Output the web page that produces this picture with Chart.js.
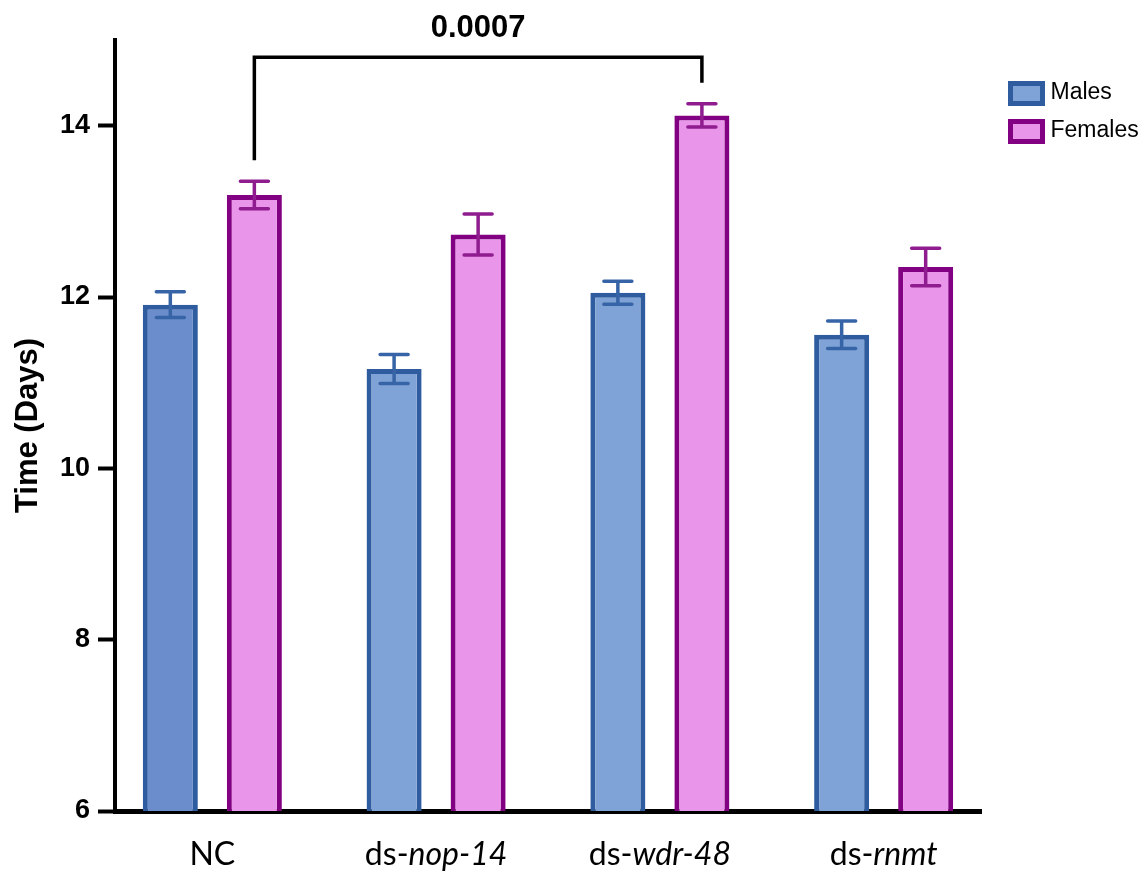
<!DOCTYPE html>
<html>
<head>
<meta charset="utf-8">
<script src="https://cdn.jsdelivr.net/npm/chart.js@4.4.1/dist/chart.umd.min.js"></script>
<style>
  html, body { margin: 0; padding: 0; background: #fff; }
  #wrap { width: 1148px; height: 873px; position: relative; }
</style>
</head>
<body>
<div id="wrap"><canvas id="chart"></canvas></div>
<script>
// data
const categories = ['NC', 'ds-nop-14', 'ds-wdr-48', 'ds-rnmt'];
const males = [11.91, 11.16, 12.05, 11.56];
const malesErr = [0.15, 0.17, 0.135, 0.16];
const females = [13.19, 12.73, 14.12, 12.35];
const femalesErr = [0.16, 0.24, 0.135, 0.22];
const yTicks = [6, 8, 10, 12, 14];
const sigPair = [0, 2];      // NC vs ds-wdr-48 (females)
const sigLabel = '0.0007';
const sigLevel = 14.8;

const SANS = "'Liberation Sans', Arial, sans-serif";
const LABEL_FONT = "Lato, 'Open Sans', sans-serif";

const MALE_FILL = '#7fa3d6';
const MALE_FILL_NC = '#6b8dcb';
const MALE_BORDER = '#2f5c9e';
const MALE_ERR = '#3764a6';
const FEMALE_FILL = '#e995e9';
const FEMALE_BORDER = '#820082';
const FEMALE_ERR = '#8f1d8f';

// error bars with caps on both ends
const errorBars = {
    id: 'errorBars',
    afterDatasetsDraw(chart) {
        const ctx = chart.ctx;
        const yScale = chart.scales.y;
        chart.data.datasets.forEach((ds, di) => {
            const meta = chart.getDatasetMeta(di);
            ctx.save();
            ctx.strokeStyle = ds.errColor;
            ctx.lineWidth = 3.5;
            ctx.lineCap = 'round';
            meta.data.forEach((bar, i) => {
                const hi = yScale.getPixelForValue(ds.data[i] + ds.errors[i]);
                const lo = yScale.getPixelForValue(ds.data[i] - ds.errors[i]);
                ctx.beginPath();
                ctx.moveTo(bar.x, hi); ctx.lineTo(bar.x, lo);
                ctx.moveTo(bar.x - 14, hi); ctx.lineTo(bar.x + 14, hi);
                ctx.moveTo(bar.x - 14, lo); ctx.lineTo(bar.x + 14, lo);
                ctx.stroke();
            });
            ctx.restore();
        });
    }
};

// significance bracket between two female bars
const sigBracket = {
    id: 'sigBracket',
    afterDraw(chart) {
        const ctx = chart.ctx;
        const yScale = chart.scales.y;
        const meta = chart.getDatasetMeta(1);
        const [a, b] = sigPair;
        const x0 = meta.data[a].x, x1 = meta.data[b].x;
        const top = yScale.getPixelForValue(sigLevel);
        const leg0 = yScale.getPixelForValue(females[a] + femalesErr[a]) - 21;
        const leg1 = yScale.getPixelForValue(females[b] + femalesErr[b]) - 21;
        ctx.save();
        ctx.strokeStyle = '#000';
        ctx.lineWidth = 3.5;
        ctx.beginPath();
        ctx.moveTo(x0, leg0); ctx.lineTo(x0, top); ctx.lineTo(x1, top); ctx.lineTo(x1, leg1);
        ctx.stroke();
        ctx.fillStyle = '#000';
        ctx.font = 'bold 31px ' + SANS;
        ctx.textAlign = 'center';
        ctx.textBaseline = 'alphabetic';
        ctx.fillText(sigLabel, (x0 + x1) / 2, top - 20);
        ctx.restore();
    }
};

// category labels, gene names in italics
const xLabels = {
    id: 'xLabels',
    afterDraw(chart) {
        const ctx = chart.ctx;
        const xScale = chart.scales.x;
        const base = chart.chartArea.bottom + 54;
        ctx.save();
        ctx.fillStyle = '#000';
        ctx.textBaseline = 'alphabetic';
        ctx.textAlign = 'left';
        categories.forEach((name, i) => {
            const cx = xScale.getPixelForValue(i);
            const parts = name.startsWith('ds-') ? ['ds-', name.slice(3)] : [name, ''];
            ctx.font = '32px ' + LABEL_FONT;
            const w0 = ctx.measureText(parts[0]).width;
            ctx.font = 'italic 32px ' + LABEL_FONT;
            const w1 = ctx.measureText(parts[1]).width;
            const x = cx - (w0 + w1) / 2;
            ctx.font = '32px ' + LABEL_FONT;
            ctx.fillText(parts[0], x, base);
            ctx.font = 'italic 32px ' + LABEL_FONT;
            ctx.fillText(parts[1], x + w0, base);
        });
        ctx.restore();
    }
};

// legend at the upper right, outside the plot
const sideLegend = {
    id: 'sideLegend',
    afterDraw(chart) {
        const ctx = chart.ctx;
        const area = chart.chartArea;
        ctx.save();
        chart.data.datasets.forEach((ds, i) => {
            const bx = area.right + 29.5;
            const by = area.top + 43.5 + i * 38;
            ctx.fillStyle = ds.legendColor;
            ctx.strokeStyle = ds.borderColor;
            ctx.lineWidth = 5;
            ctx.beginPath();
            ctx.rect(bx, by, 32, 20);
            ctx.fill();
            ctx.stroke();
            ctx.fillStyle = '#000';
            ctx.font = '23px ' + SANS;
            ctx.textAlign = 'left';
            ctx.textBaseline = 'middle';
            ctx.fillText(ds.label, bx + 40, by + 9);
        });
        ctx.restore();
    }
};

new Chart(document.getElementById('chart'), {
    type: 'bar',
    data: {
        labels: categories.map((c, i) => i),
        datasets: [
            {
                label: 'Males',
                data: males,
                errors: malesErr,
                backgroundColor: c => c.dataIndex === 0 ? MALE_FILL_NC : MALE_FILL,
                legendColor: MALE_FILL,
                borderColor: MALE_BORDER,
                borderWidth: 5,
                errColor: MALE_ERR,
                categoryPercentage: 0.751,
                barPercentage: 0.655
            },
            {
                label: 'Females',
                data: females,
                errors: femalesErr,
                backgroundColor: FEMALE_FILL,
                legendColor: FEMALE_FILL,
                borderColor: FEMALE_BORDER,
                borderWidth: 5,
                errColor: FEMALE_ERR,
                categoryPercentage: 0.751,
                barPercentage: 0.655
            }
        ]
    },
    options: {
        responsive: true, maintainAspectRatio: false,
        animation: false,
        layout: { padding: { top: 40, right: 167, bottom: 62, left: 0 } },
        plugins: { legend: { display: false }, tooltip: { enabled: false } },
        scales: {
            x: {
                type: 'linear', min: -0.435, max: 3.435, offset: false, z: 1,
                afterBuildTicks: s => { s.ticks = categories.map((c, i) => ({ value: i })); },
                afterFit: s => { s.height = 0; },
                border: { color: '#000', width: 5 },
                grid: { display: false },
                ticks: { display: false }
            },
            y: {
                min: 6, max: 15, z: 1,
                afterBuildTicks: s => { s.ticks = yTicks.map(v => ({ value: v })); },
                afterFit: s => { s.width = 115; },
                border: { color: '#000', width: 4 },
                grid: { drawOnChartArea: false, tickLength: 17, tickWidth: 4, tickColor: '#000' },
                ticks: { color: '#000', padding: 8, font: { family: SANS, size: 27, weight: 'bold' } },
                title: {
                    display: true, text: 'Time (Days)', color: '#000',
                    font: { family: SANS, size: 31, weight: 'bold' },
                    padding: { top: 10, bottom: 0 }
                }
            }
        }
    },
    plugins: [errorBars, sigBracket, xLabels, sideLegend]
});
</script>
</body>
</html>
